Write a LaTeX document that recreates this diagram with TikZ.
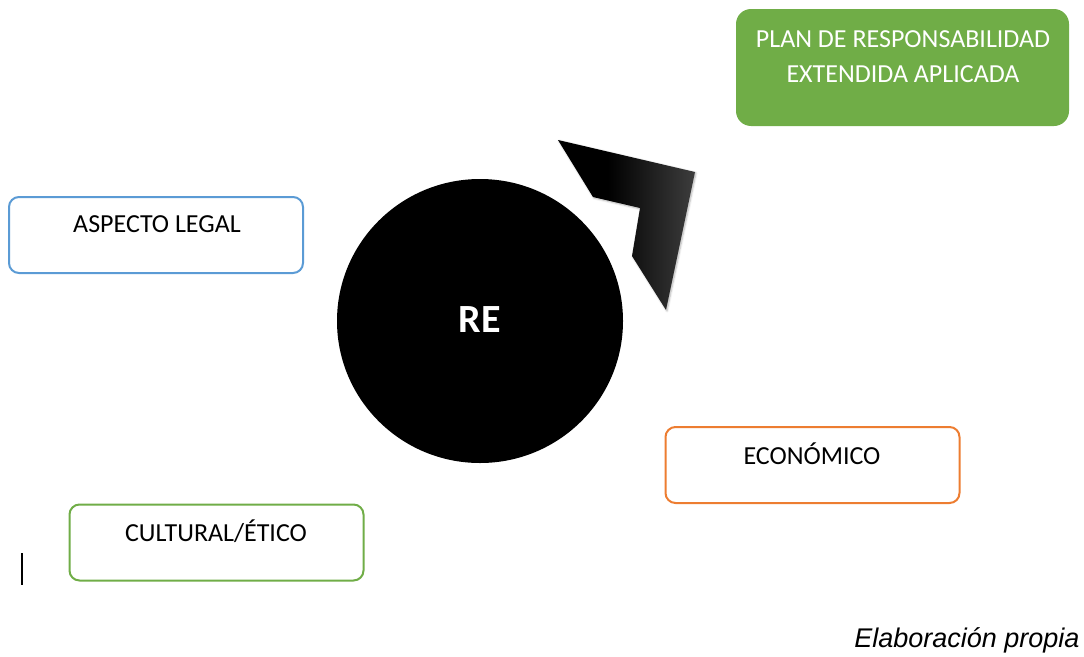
\documentclass[tikz,border=0pt]{standalone}
\usepackage{fontspec}
\setmainfont{Carlito}
\newfontfamily\arialfont{Liberation Sans}
\usetikzlibrary{shapes.geometric,shadows.blur}
\definecolor{ogreen}{HTML}{70AD47}
\definecolor{oblue}{HTML}{5B9BD5}
\definecolor{oorange}{HTML}{ED7D31}
\pgfdeclarehorizontalshading{arrowshade}{100bp}{color(0bp)=(black); color(43bp)=(black); color(75bp)=(black!76); color(100bp)=(black!76)}
\tikzset{
  box/.style={draw, line width=2pt, rounded corners=10pt, fill=white, minimum width=294pt, minimum height=76pt, inner sep=0pt},
  boxtext/.style={font=\fontsize{26}{30}\selectfont, text=black, anchor=center},
}
\begin{document}
\begin{tikzpicture}[x=1pt,y=-1pt]
\useasboundingbox (0,0) rectangle (1084,656);
% green plan box
\node[fill=ogreen, rounded corners=15pt, minimum width=333pt, minimum height=117pt, inner sep=0pt] (plan) at (902.5,67.5) {};
\node[font=\fontsize{26}{35}\selectfont, text=white, align=center] (plantext) at (903,57) {PLAN DE RESPONSABILIDAD\\EXTENDIDA APLICADA};
% boxes
\node[box, draw=oblue] (legal) at (156,235) {};
\node[boxtext] (legaltext) at (157,224) {ASPECTO LEGAL};
\node[box, draw=oorange] (econ) at (812.5,465) {};
\node[boxtext] (econtext) at (812,454) {ECONÓMICO};
\node[box, draw=ogreen] (cult) at (216.5,542.5) {};
\node[boxtext] (culttext) at (216,531) {CULTURAL/ÉTICO};
% RE circle
\node[ellipse, fill=black, minimum width=286pt, minimum height=284pt, inner sep=0pt] (re) at (480,321) {};
\node[font=\fontsize{40}{44}\bfseries\selectfont, text=white] (retext) at (480,320) {RE};
% arrow-like shape
\path[shading=arrowshade, blur shadow={shadow blur steps=6, shadow xshift=1pt, shadow yshift=-1pt, shadow opacity=30}]
  (558,140) -- (695,172) -- (666,310) -- (632,256) -- (640,208) -- (593,197) -- cycle;
% cursor bar
\draw[line width=2pt] (22,553) coordinate (c1) -- (22,585) coordinate (c2);
% caption
\node[font=\arialfont\itshape\fontsize{27}{30}\selectfont, anchor=east] (cap) at (1083,640) {Elaboración propia};
\end{tikzpicture}
\end{document}
